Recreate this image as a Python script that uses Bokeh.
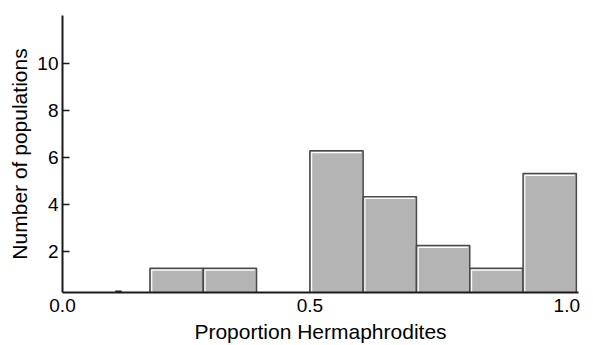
from bokeh.plotting import figure
from bokeh.models import FixedTicker, Range1d
from bokeh.embed import file_html
from bokeh.resources import INLINE

# Histogram data
bin_left = [0.2, 0.3, 0.5, 0.6, 0.7, 0.8, 0.9]
bin_right = [0.3, 0.4, 0.6, 0.7, 0.8, 0.9, 1.0]
counts = [1.3, 1.3, 6.3, 4.35, 2.27, 1.3, 5.33]

# small stray mark on the x axis
stray_left = [0.135]
stray_right = [0.147]

y_ticks = [2, 4, 6, 8, 10]
x_tick_pos = [0.036, 0.5, 0.982]
x_tick_labels = ["0.0", "0.5", "1.0"]

FONT = "Liberation Sans"

p = figure(width=593, height=345, output_backend="svg", toolbar_location=None,
           x_range=Range1d(0.036, 1.004), y_range=Range1d(0.27, 12.06),
           min_border_left=62, min_border_right=15, min_border_top=15,
           min_border_bottom=50)
p.outline_line_color = None
p.grid.grid_line_color = None
p.background_fill_color = "white"
p.border_fill_color = "white"

bottoms = [0] * len(counts)
p.quad(left=bin_left, right=bin_right, bottom=bottoms, top=counts,
       fill_color="#b4b4b4", line_color="#4a4a4a", line_width=1.5)

# white bevel highlight on left and top edges
dx = 1.8 / 533.0
dy = 1.8 / 23.75
xs, ys = [], []
for l, r, t in zip(bin_left, bin_right, counts):
    xs.append([l + dx, l + dx, r - dx])
    ys.append([0, t - dy, t - dy])
p.multi_line(xs=xs, ys=ys, line_color="white", line_width=1.2)

p.segment(x0=stray_left, x1=stray_right, y0=[0.27], y1=[0.27],
          line_color="#222222", line_width=4)

# axes
xa = p.xaxis[0]
xa.ticker = FixedTicker(ticks=x_tick_pos)
xa.major_label_overrides = {pos: lab for pos, lab in zip(x_tick_pos, x_tick_labels)}
xa.major_tick_in = 0
xa.major_tick_out = 0
xa.minor_tick_line_color = None
xa.axis_line_width = 2
xa.axis_line_color = "#1a1a1a"
xa.major_label_standoff = 6
xa.axis_label = "Proportion Hermaphrodites"
xa.axis_label_standoff = 5

ya = p.yaxis[0]
ya.ticker = FixedTicker(ticks=y_ticks)
ya.major_tick_in = 7
ya.major_tick_out = 0
ya.major_tick_line_width = 1.3
ya.major_tick_line_color = "#1a1a1a"
ya.minor_tick_line_color = None
ya.axis_line_width = 2
ya.axis_line_color = "#1a1a1a"
ya.major_label_standoff = 4
ya.axis_label = "Number of populations"
ya.axis_label_standoff = 3

for ax in (xa, ya):
    ax.major_label_text_font = FONT
    ax.major_label_text_font_size = "19px"
    ax.major_label_text_color = "black"
    ax.axis_label_text_font = FONT
    ax.axis_label_text_font_size = "21px"
    ax.axis_label_text_font_style = "normal"
    ax.axis_label_text_color = "black"

open("out.html", "w").write(file_html(p, INLINE))
